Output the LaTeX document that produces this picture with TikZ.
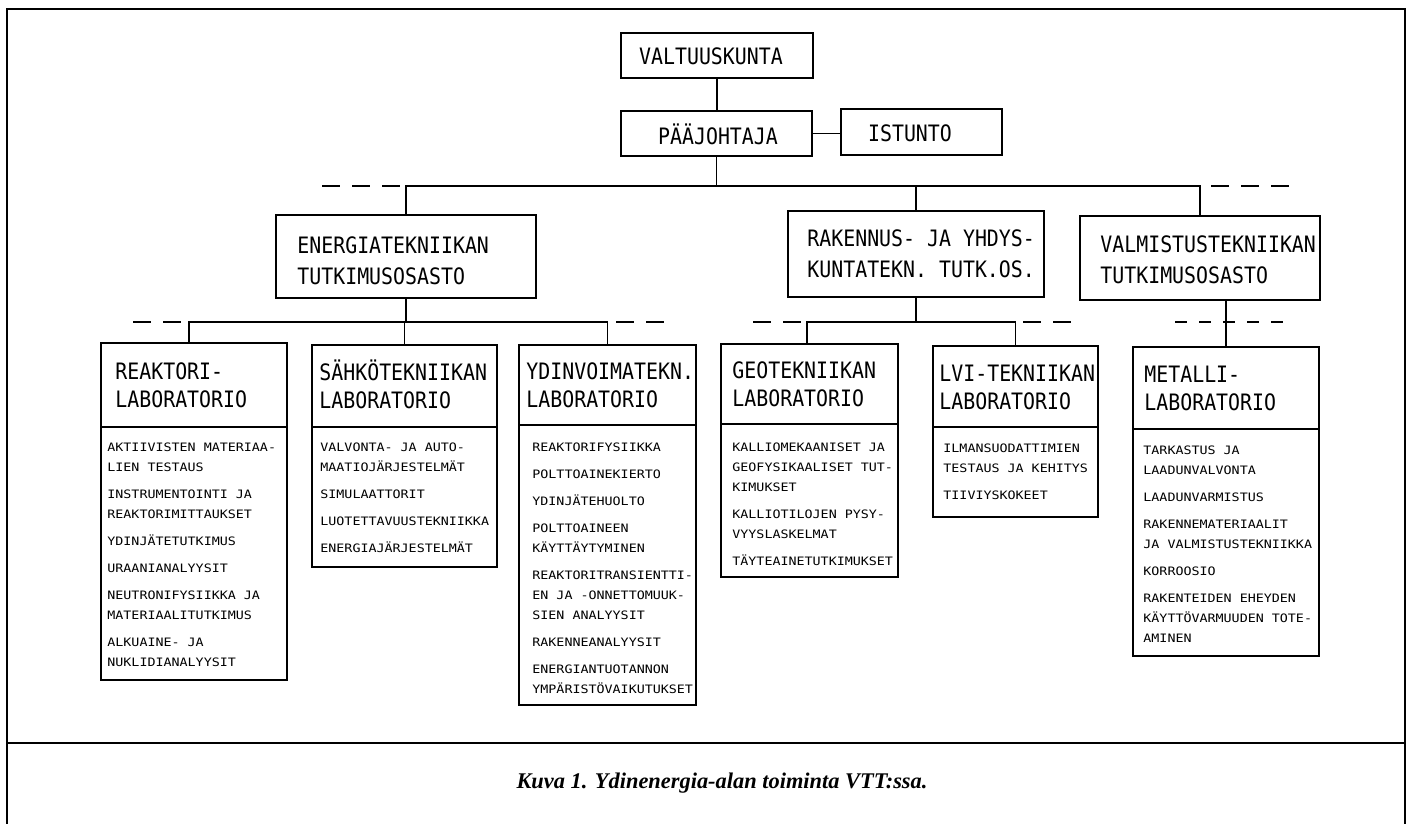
\documentclass[tikz,border=0pt]{standalone}
\usepackage{fontspec}
\usetikzlibrary{fit}
\newfontfamily\orgtitlefont[FakeStretch=0.88]{DejaVu Sans Mono}
\newfontfamily\orgitemfont[FakeStretch=1.15]{DejaVu Sans Mono}
\newfontfamily\orgcapfont{Liberation Serif}
\newcommand{\tstrut}{\rule{0pt}{12pt}}
\newcommand{\istrut}{\rule{0pt}{6pt}}
\begin{document}
\begin{tikzpicture}[x=0.5pt,y=-0.5pt,
  box/.style={draw, line width=0.85pt, inner sep=0pt},
  toptext/.style={inner sep=0pt, font=\orgtitlefont\fontsize{11.3}{14}\selectfont},
  link/.style={line width=0.85pt},
  gapline/.style={line width=0.85pt, dash pattern=on 9pt off 6pt},
  shortgap/.style={line width=0.85pt, dash pattern=on 6pt off 6pt},
  frame/.style={line width=1.2pt},
  ttl/.style={inner sep=0pt, align=left, anchor=north west, font=\orgtitlefont\fontsize{11.3}{14}\selectfont},
  dtl/.style={inner sep=0pt, align=left, anchor=north west, font=\orgtitlefont\fontsize{11.3}{15.5}\selectfont},
  itm/.style={inner sep=0pt, align=left, anchor=north west, font=\orgitemfont\fontsize{5.8}{10}\selectfont},
]
\useasboundingbox (0,0) rectangle (1409,824);
% frame
\coordinate (fTL) at (7,9); \coordinate (fTR) at (1405,9);
\coordinate (fBL) at (7,824); \coordinate (fBR) at (1405,824);
\coordinate (sL) at (7,743); \coordinate (sR) at (1405,743);
\draw[frame] (fBL) -- (fTL) -- (fTR) -- (fBR);
\draw[frame] (sL) -- (sR);

% top level
\node[box, fit={(621,33) (813,78)}] (valt) {};
\node[toptext] (valt-t) at (711,56) {VALTUUSKUNTA};
\node[box, fit={(621,111) (812,156)}] (paa) {};
\node[toptext] (paa-t) at (718,134) {PÄÄJOHTAJA};
\node[box, fit={(841,109) (1002,155)}] (ist) {};
\node[toptext] (ist-t) at (910,133) {ISTUNTO};

% divisions
\node[box, fit={(276,215) (536,298)}] (ene) {};
\node[dtl] (ene-t) at (297,229) {\tstrut ENERGIATEKNIIKAN\\TUTKIMUSOSASTO};
\node[box, fit={(788,211) (1044,297)}] (rak) {};
\node[dtl] (rak-t) at (807,222) {\tstrut RAKENNUS- JA YHDYS-\\KUNTATEKN. TUTK.OS.};
\node[box, fit={(1080,216) (1320,300)}] (val) {};
\node[dtl] (val-t) at (1100,228) {\tstrut VALMISTUSTEKNIIKAN\\TUTKIMUSOSASTO};

% labs
\node[box, fit={(101,343) (287,680)}] (rea) {};
\coordinate (rea-d) at (0,427);
\draw[link] (rea.west |- rea-d) -- (rea.east |- rea-d);
\node[ttl] (rea-t) at (115,355) {\tstrut REAKTORI-\\LABORATORIO};
\node[itm] (rea-i) at (107,439) {\istrut AKTIIVISTEN MATERIAA-\\LIEN TESTAUS\\[3.5pt]
INSTRUMENTOINTI JA\\REAKTORIMITTAUKSET\\[3.5pt]
YDINJÄTETUTKIMUS\\[3.5pt]
URAANIANALYYSIT\\[3.5pt]
NEUTRONIFYSIIKKA JA\\MATERIAALITUTKIMUS\\[3.5pt]
ALKUAINE- JA\\NUKLIDIANALYYSIT};

\node[box, fit={(312,345) (497,567)}] (sah) {};
\coordinate (sah-d) at (0,427);
\draw[link] (sah.west |- sah-d) -- (sah.east |- sah-d);
\node[ttl] (sah-t) at (319,356) {\tstrut SÄHKÖTEKNIIKAN\\LABORATORIO};
\node[itm] (sah-i) at (320,439) {\istrut VALVONTA- JA AUTO-\\MAATIOJÄRJESTELMÄT\\[3.5pt]
SIMULAATTORIT\\[3.5pt]
LUOTETTAVUUSTEKNIIKKA\\[3.5pt]
ENERGIAJÄRJESTELMÄT};

\node[box, fit={(519,345) (696,705)}] (ydi) {};
\coordinate (ydi-d) at (0,425);
\draw[link] (ydi.west |- ydi-d) -- (ydi.east |- ydi-d);
\node[ttl] (ydi-t) at (526,355) {\tstrut YDINVOIMATEKN.\\LABORATORIO};
\node[itm] (ydi-i) at (532,439) {\istrut REAKTORIFYSIIKKA\\[3.5pt]
POLTTOAINEKIERTO\\[3.5pt]
YDINJÄTEHUOLTO\\[3.5pt]
POLTTOAINEEN\\KÄYTTÄYTYMINEN\\[3.5pt]
REAKTORITRANSIENTTI-\\EN JA -ONNETTOMUUK-\\SIEN ANALYYSIT\\[3.5pt]
RAKENNEANALYYSIT\\[3.5pt]
ENERGIANTUOTANNON\\YMPÄRISTÖVAIKUTUKSET};

\node[box, fit={(721,344) (898,577)}] (geo) {};
\coordinate (geo-d) at (0,424);
\draw[link] (geo.west |- geo-d) -- (geo.east |- geo-d);
\node[ttl] (geo-t) at (732,354) {\tstrut GEOTEKNIIKAN\\LABORATORIO};
\node[itm] (geo-i) at (732,439) {\istrut KALLIOMEKAANISET JA\\GEOFYSIKAALISET TUT-\\KIMUKSET\\[3.5pt]
KALLIOTILOJEN PYSY-\\VYYSLASKELMAT\\[3.5pt]
TÄYTEAINETUTKIMUKSET};

\node[box, fit={(933,346) (1098,517)}] (lvi) {};
\coordinate (lvi-d) at (0,427);
\draw[link] (lvi.west |- lvi-d) -- (lvi.east |- lvi-d);
\node[ttl] (lvi-t) at (939,357) {\tstrut LVI-TEKNIIKAN\\LABORATORIO};
\node[itm] (lvi-i) at (943,440) {\istrut ILMANSUODATTIMIEN\\TESTAUS JA KEHITYS\\[3.5pt]
TIIVIYSKOKEET};

\node[box, fit={(1133,347) (1319,656)}] (met) {};
\coordinate (met-d) at (0,429);
\draw[link] (met.west |- met-d) -- (met.east |- met-d);
\node[ttl] (met-t) at (1144,358) {\tstrut METALLI-\\LABORATORIO};
\node[itm] (met-i) at (1143,442) {\istrut TARKASTUS JA\\LAADUNVALVONTA\\[3.5pt]
LAADUNVARMISTUS\\[3.5pt]
RAKENNEMATERIAALIT\\JA VALMISTUSTEKNIIKKA\\[3.5pt]
KORROOSIO\\[3.5pt]
RAKENTEIDEN EHEYDEN\\KÄYTTÖVARMUUDEN TOTE-\\AMINEN};

% connectors, level 1
\draw[link] (valt.south) -- (valt.south |- paa.north);
\draw[link] (paa.east) -- (paa.east -| ist.west);
\coordinate (b1) at (0,186);
\draw[link] (paa.south) -- (paa.south |- b1);
\draw[link] (ene.north) -- (ene.north |- b1) -- (val.north |- b1) -- (val.north);
\draw[link] (rak.north) -- (rak.north |- b1);
\coordinate (b1a) at (322,186); \coordinate (b1b) at (400,186);
\coordinate (b1c) at (1211,186); \coordinate (b1d) at (1289,186);
\draw[gapline] (b1a) -- (b1b);
\draw[gapline] (b1c) -- (b1d);

% connectors, level 2
\coordinate (b2) at (0,322);
\draw[link] (ene.south) -- (ene.south |- b2);
\draw[link] ([xshift=-2.5pt]rea.north) -- ([xshift=-2.5pt]rea.north |- b2) -- (ydi.north |- b2) -- (ydi.north);
\draw[link] (sah.north) -- (sah.north |- b2);
\coordinate (b2a) at (133,322); \coordinate (b2b) at (181,322);
\coordinate (b2c) at (616,322); \coordinate (b2d) at (664,322);
\draw[gapline] (b2a) -- (b2b);
\draw[gapline] (b2c) -- (b2d);

\draw[link] (rak.south) -- (rak.south |- b2);
\draw[link] ([xshift=-1.25pt]geo.north) -- ([xshift=-1.25pt]geo.north |- b2) -- (lvi.north |- b2) -- (lvi.north);
\coordinate (b2e) at (753,322); \coordinate (b2f) at (801,322);
\coordinate (b2g) at (1023,322); \coordinate (b2h) at (1071,322);
\draw[gapline] (b2e) -- (b2f);
\draw[gapline] (b2g) -- (b2h);

\draw[link] (met.north) -- (met.north |- val.south);
\coordinate (b2i) at (1175,322); \coordinate (b2j) at (1283,322);
\draw[shortgap] (b2i) -- (b2j);

% caption
\node[font=\orgcapfont\bfseries\itshape\fontsize{11.2}{13}\selectfont] (cap) at (722,783) {Kuva 1. Ydinenergia-alan toiminta VTT:ssa.};
\end{tikzpicture}
\end{document}
